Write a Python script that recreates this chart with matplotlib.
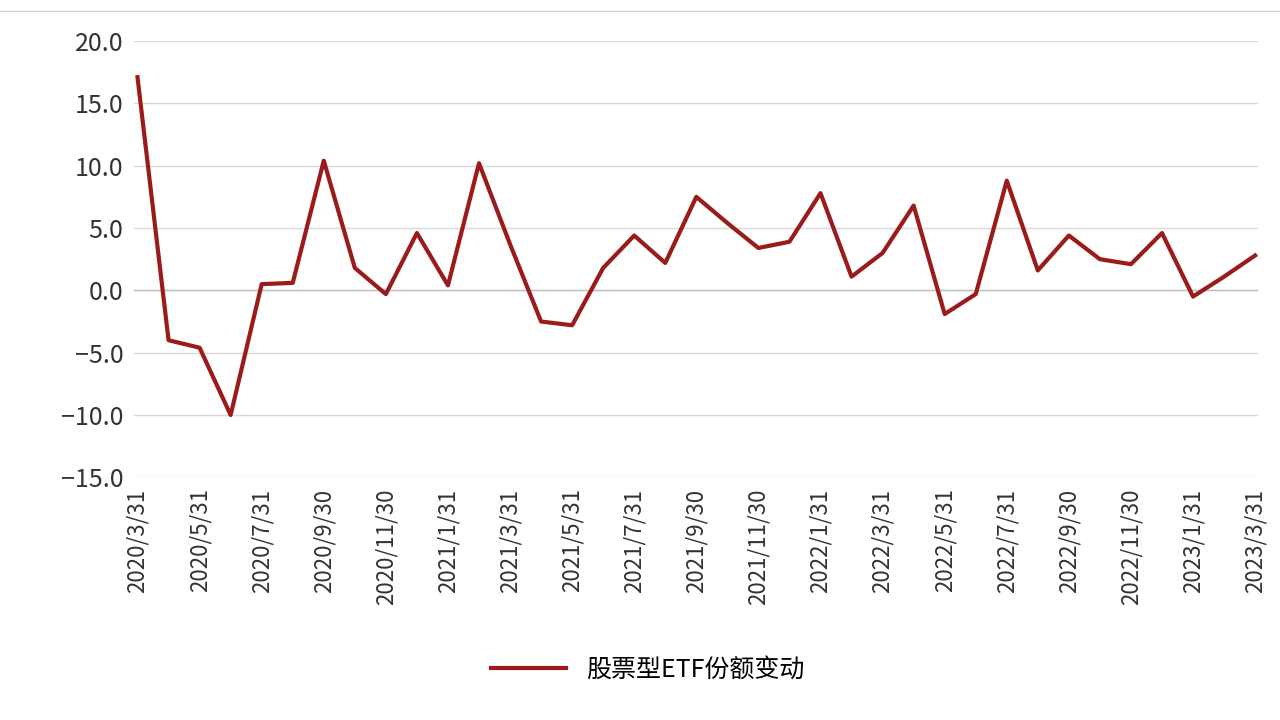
import matplotlib
matplotlib.use("Agg")
import matplotlib.pyplot as plt

plt.rcParams['font.family'] = ['Noto Sans CJK SC', 'DejaVu Sans']

dates = ["2020/3/31","2020/4/30","2020/5/31","2020/6/30","2020/7/31","2020/8/31","2020/9/30",
         "2020/10/31","2020/11/30","2020/12/31","2021/1/31","2021/2/28","2021/3/31","2021/4/30",
         "2021/5/31","2021/6/30","2021/7/31","2021/8/31","2021/9/30","2021/10/31","2021/11/30",
         "2021/12/31","2022/1/31","2022/2/28","2022/3/31","2022/4/30","2022/5/31","2022/6/30",
         "2022/7/31","2022/8/31","2022/9/30","2022/10/31","2022/11/30","2022/12/31","2023/1/31",
         "2023/2/28","2023/3/31"]
values = [17.1,-4.0,-4.6,-10.0,0.5,0.6,10.4,1.8,-0.3,4.6,0.4,10.2,3.7,-2.5,-2.8,1.8,4.4,2.2,7.5,
          5.4,3.4,3.9,7.8,1.1,3.0,6.8,-1.9,-0.3,8.8,1.6,4.4,2.5,2.1,4.6,-0.5,1.1,2.8]
series_name = "股票型ETF份额变动"
yticks = [-15, -10, -5, 0, 5, 10, 15, 20]

fig = plt.figure(figsize=(12.8, 7.2), dpi=100)
ax = fig.add_axes([0.105, 0.337, 0.878, 0.606])
x = list(range(len(dates)))
ax.plot(x, values, color='#9B1B1B', lw=3, label=series_name)
ax.set_xlim(-0.1, len(dates) - 1 + 0.1)
ax.set_ylim(-15, 20)
ax.set_yticks(yticks)
ax.set_yticklabels([f"{v:.1f}".replace('-', '−') for v in yticks], fontsize=18, color='#333333')
ax.set_xticks(x[::2])
ax.set_xticklabels(dates[::2], rotation=90, fontsize=16, color='#333333')
ax.grid(axis='y', color='#d9d9d9', lw=1)
ax.set_axisbelow(True)
for s in ['top', 'right', 'left', 'bottom']:
    ax.spines[s].set_visible(False)
ax.axhline(0, color='#bfbfbf', lw=1, zorder=1)
ax.tick_params(axis='both', length=0, pad=8)
fig.legend(loc='lower center', bbox_to_anchor=(0.506, 0.02), frameon=False, fontsize=18,
           handlelength=3)
fig.add_artist(plt.Line2D([0, 1], [0.985, 0.985], color='#d0d0d0', lw=1, transform=fig.transFigure))
fig.savefig("out.png", dpi=100)
